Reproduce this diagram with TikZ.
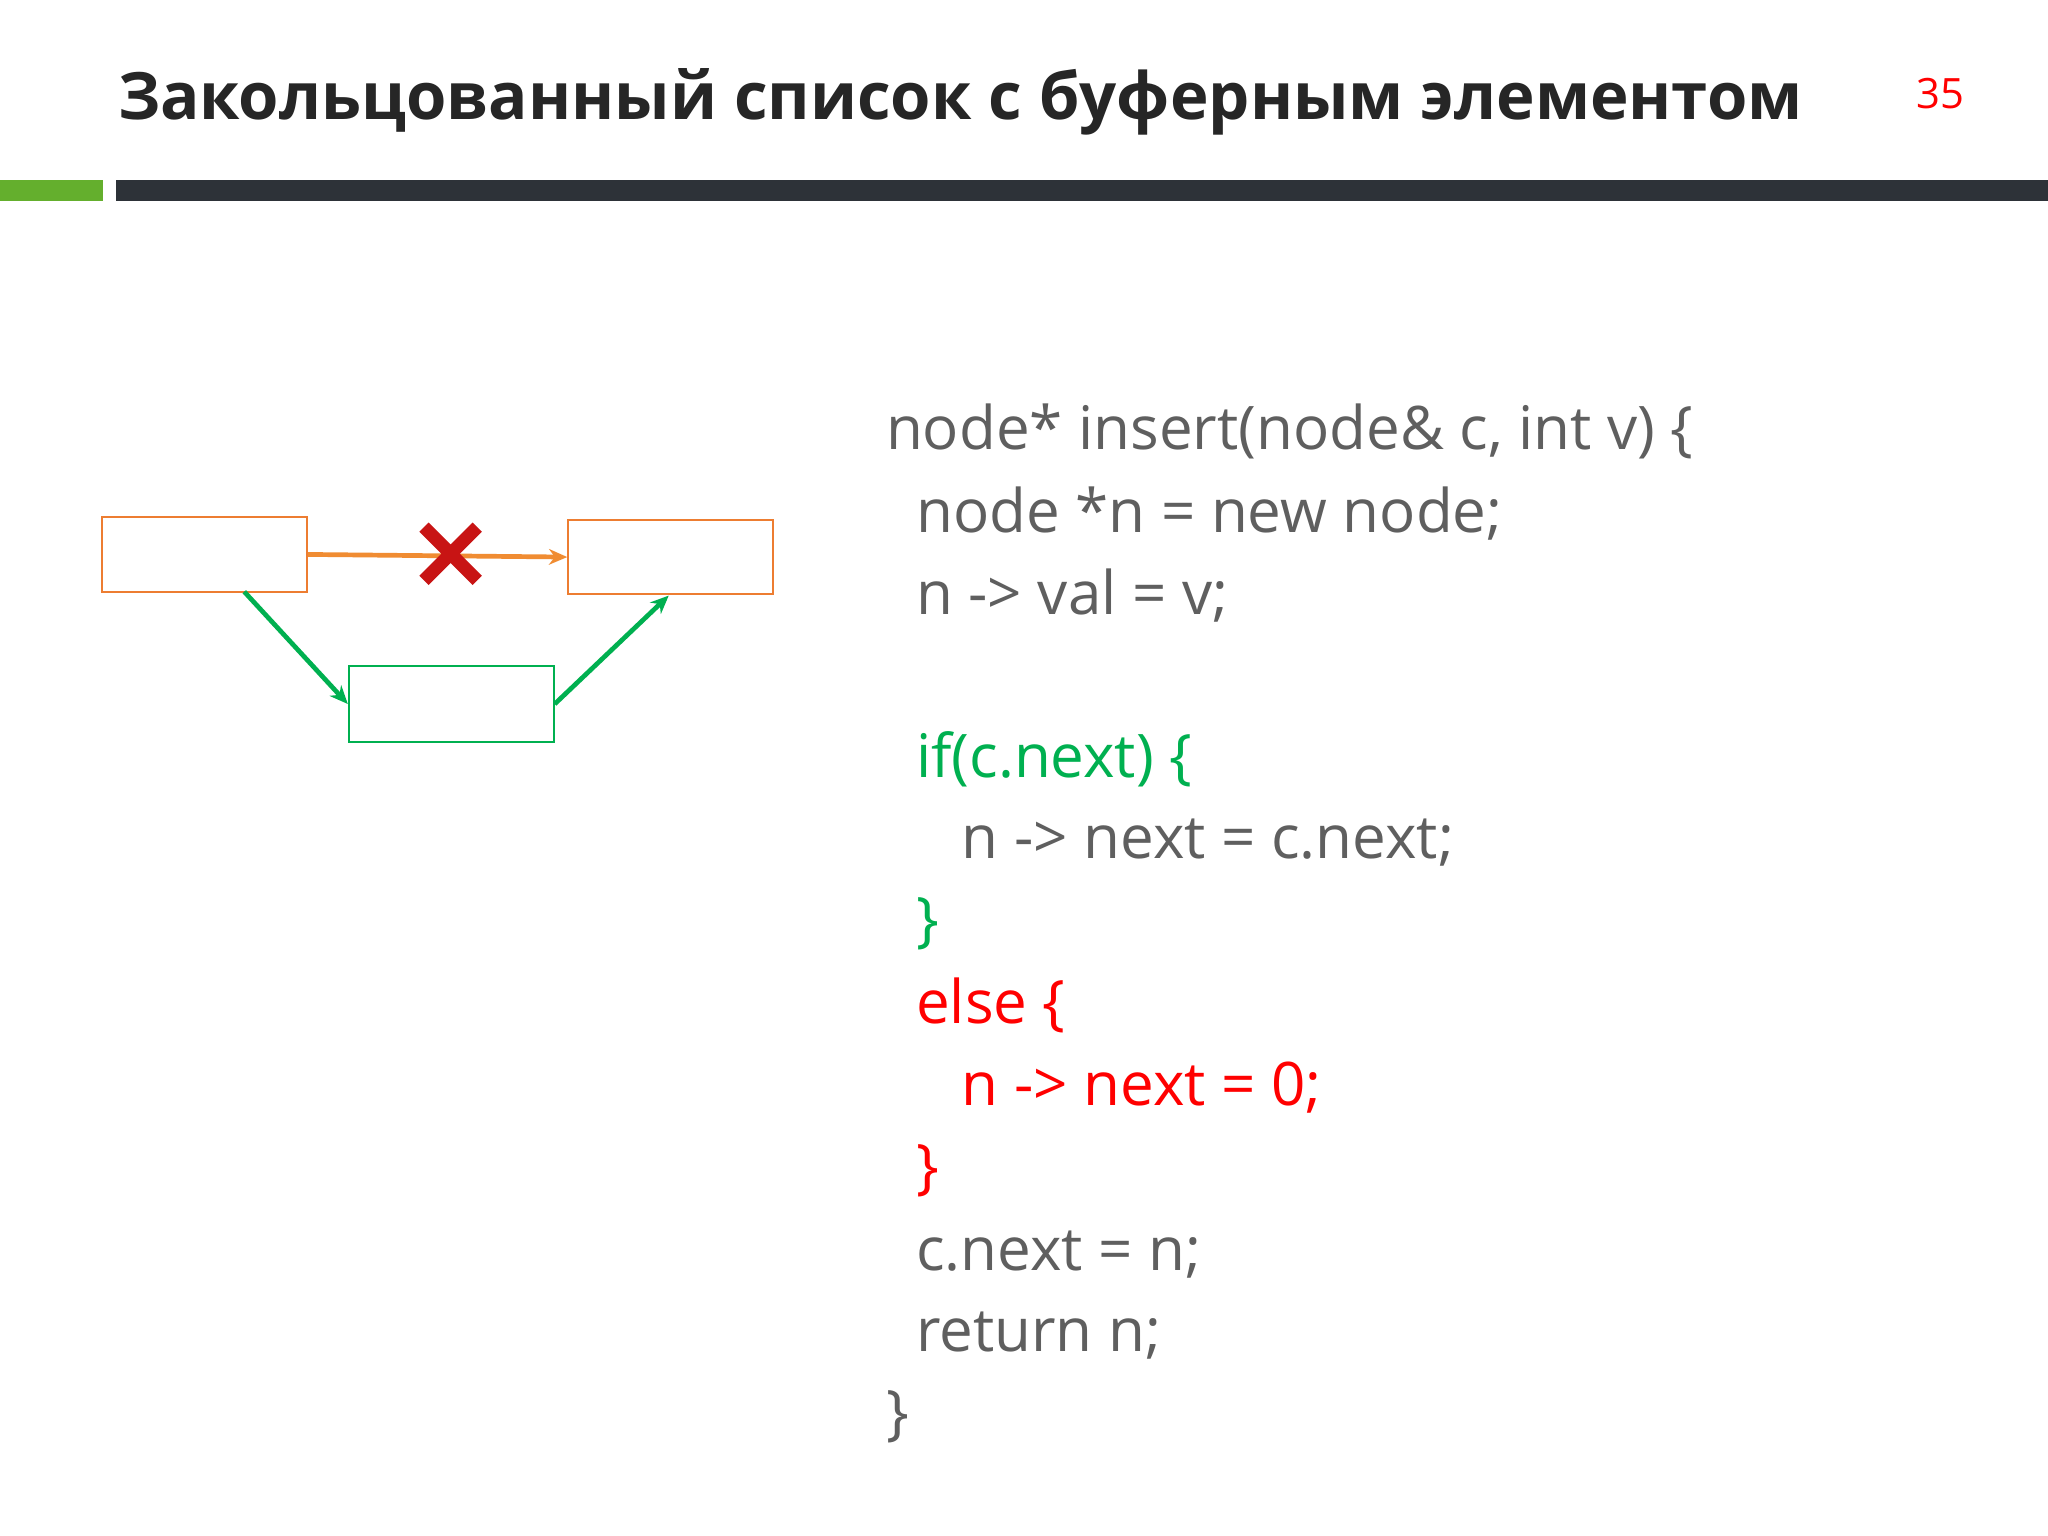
\documentclass[tikz,border=0pt]{standalone}
\usepackage{fontspec}
\setmainfont{Open Sans}
\usetikzlibrary{arrows.meta}
\definecolor{cg}{RGB}{95,95,95}
\definecolor{gr}{RGB}{0,176,80}
\definecolor{og}{RGB}{237,125,49}
\definecolor{og2}{RGB}{240,140,50}
\definecolor{rd}{RGB}{255,0,0}
\definecolor{bar}{RGB}{45,50,56}
\definecolor{gbar}{RGB}{100,175,45}
\definecolor{xr}{RGB}{200,20,20}
\begin{document}
\begin{tikzpicture}[x=0.5pt,y=-0.5pt,
 code/.style={anchor=mid west,inner sep=0,font=\fontsize{23}{27}\selectfont,text=cg},
 obox/.style={draw=og,line width=0.7pt,minimum width=78.5pt,minimum height=28.5pt,inner sep=0},
 gbox/.style={draw=gr,line width=0.7pt,minimum width=78.5pt,minimum height=29pt,inner sep=0},
 arr/.style={line width=1.8pt,-{Stealth[length=7pt,width=6pt]}}]
\useasboundingbox (0,0) rectangle (1568,1176);
\fill[white] (0,0) rectangle (1568,1176);
\node[anchor=mid west,inner sep=0,font=\bfseries\fontsize{25}{30}\selectfont,text=black!85] (title) at (90,86) {Закольцованный список с буферным элементом};
\node[anchor=mid west,inner sep=0,font=\fontsize{16}{19}\selectfont,text=rd] (num) at (1467,78) {35};
\fill[gbar] (0,138) rectangle (79,154);
\fill[bar] (89,138) rectangle (1568,154);
\node[obox] (a) at (156.5,424.5) {};
\node[obox] (b) at (513.5,426.5) {};
\node[gbox] (c) at (345.5,539) {};
\draw[arr,og2] (a.east) -- (b.west);
\node[inner sep=0,minimum size=20pt] (x) at (345,424) {};
\draw[xr,line width=5pt] (x.north west) -- (x.south east) (x.north east) -- (x.south west);
\coordinate (a1) at (187,453);
\coordinate (b1) at (512,456);
\draw[arr,gr] (a1) -- (c.west);
\draw[arr,gr] (c.east) -- (b1);
\node[code] (l1) at (678,339) {node* insert(node\& c, int v) \{};
\node[code] (l2) at (701,402) {node *n = new node;};
\node[code] (l3) at (701,465) {n -> val = v;};
\node[code,text=gr] (l4) at (701,590) {if(c.next) \{};
\node[code] (l5) at (736,652) {n -> next = c.next;};
\node[code,text=gr] (l6) at (701,715) {\}};
\node[code,text=rd] (l7) at (701,778) {else \{};
\node[code,text=rd] (l8) at (736,841) {n -> next = 0;};
\node[code,text=rd] (l9) at (701,904) {\}};
\node[code] (l10) at (701,967) {c.next = n;};
\node[code] (l11) at (701,1029) {return n;};
\node[code] (l12) at (678,1092) {\}};
\end{tikzpicture}
\end{document}
